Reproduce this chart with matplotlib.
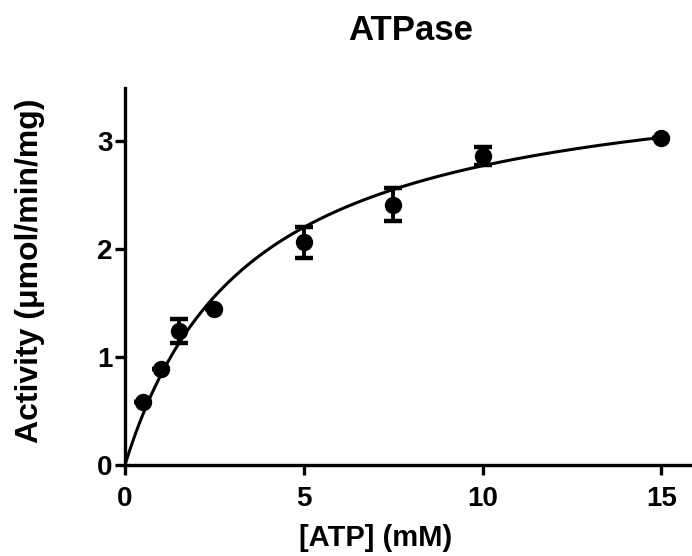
import numpy as np
import matplotlib
matplotlib.use("Agg")
import matplotlib.pyplot as plt

plt.rcParams['font.family'] = ['Liberation Sans', 'DejaVu Sans']
plt.rcParams['font.weight'] = 'bold'

atp = [0.5, 1.0, 1.5, 2.5, 5.0, 7.5, 10.0, 15.0]
activity = [0.58, 0.89, 1.24, 1.44, 2.06, 2.41, 2.86, 3.03]
sem = [0.0, 0.0, 0.11, 0.0, 0.14, 0.15, 0.08, 0.0]
vmax = 3.74
km = 3.5
xticks = [0, 5, 10, 15]
yticks = [0, 1, 2, 3]

fig = plt.figure(figsize=(6.92, 5.56), dpi=100)
ax = fig.add_axes([0.1806, 0.1637, 0.8164, 0.678])

xs = np.linspace(0, 15, 300)
ax.plot(xs, vmax * xs / (km + xs), color='black', lw=2.2, zorder=2)
ax.errorbar(atp, activity, yerr=sem, fmt='o', color='black', ms=11.5,
            elinewidth=2.8, capsize=6.5, capthick=3.2, zorder=3)

ax.set_xlim(0, 15.8)
ax.set_ylim(0, 3.49)
ax.set_xticks(xticks)
ax.set_yticks(yticks)
for s in ['top', 'right']:
    ax.spines[s].set_visible(False)
for s in ['left', 'bottom']:
    ax.spines[s].set_linewidth(2.4)
ax.tick_params(width=2.4, length=7, labelsize=20)
ax.tick_params(axis='x', pad=8)
ax.tick_params(axis='y', pad=2)
for lab in ax.get_xticklabels() + ax.get_yticklabels():
    lab.set_fontweight('bold')

fig.text(376 / 692, 1 - 538 / 556, '[ATP] (mM)', ha='center', va='center',
         fontsize=21, fontweight='bold')
fig.text(30 / 692, 1 - 271 / 556, 'Activity (\u03bcmol/min/mg)', ha='center', va='center',
         rotation=90, fontsize=23, fontweight='bold')
fig.text(411 / 692, 1 - 31 / 556, 'ATPase', ha='center', va='center', fontsize=25, fontweight='bold')

fig.savefig('out.png', dpi=100)
